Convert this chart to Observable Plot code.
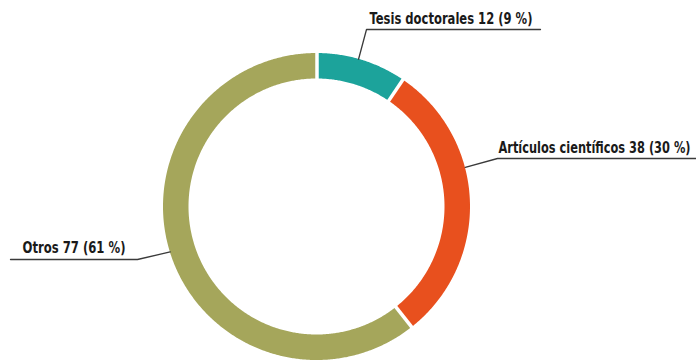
<!DOCTYPE html>
<html>
<head>
<meta charset="utf-8">
<script src="https://cdn.jsdelivr.net/npm/d3@7"></script>
<script src="https://cdn.jsdelivr.net/npm/@observablehq/plot@0.6"></script>
<style>
  body { margin: 0; background: #fff; }
  #chart svg { display: block; }
</style>
</head>
<body>
<div id="chart"></div>
<script>
// Publications by type
const categories = ["Tesis doctorales", "Artículos científicos", "Otros"];
const counts = [12, 38, 77];
const percents = [9, 30, 61];
const colors = ["#1ca39b", "#e8501e", "#a5a65b"];

// Layout
const W = 696, H = 362;
const cx = 316.5, cy = 206.5, rOuter = 153.5, rInner = 128;
// where each leader line leaves the ring (degrees clockwise from 12 o'clock),
// its elbow and the far end of its horizontal run
const leaderAngle = [15.7, 75, 253];
const leaderElbow = [[366, 29], [497, 158], [137, 259]];
const leaderEnd = [540, 696, 10];
const labelPos = [[369, 23], [498, 152], [22, 252]];
const labelWidth = [163, 192, 103];

const total = d3.sum(counts);
const pt = (a, r) => [cx + r * Math.sin(a), cy - r * Math.cos(a)];

// slices run clockwise from the top
let acc = 0;
const slices = categories.map((category, i) => {
  const a0 = acc / total * 2 * Math.PI;
  acc += counts[i];
  return {category, a0, a1: acc / total * 2 * Math.PI};
});

// one sample per step along each arc: outer and inner edge
const ring = slices.flatMap(s => {
  const n = Math.max(12, Math.ceil((s.a1 - s.a0) * 120));
  return d3.range(n + 1).map(k => {
    const a = s.a0 + (s.a1 - s.a0) * k / n;
    const [x1, y1] = pt(a, rOuter);
    const [x2, y2] = pt(a, rInner);
    return {category: s.category, x1, y1, x2, y2};
  });
});

// white gaps between slices
const gaps = slices.map(s => {
  const [x1, y1] = pt(s.a0, rInner - 3);
  const [x2, y2] = pt(s.a0, rOuter + 3);
  return {x1, y1, x2, y2};
});

// leader lines
const leaders = categories.flatMap((category, i) => {
  const [ax, ay] = pt(leaderAngle[i] * Math.PI / 180, rOuter);
  const [ex, ey] = leaderElbow[i];
  return [
    {category, x: ax, y: ay},
    {category, x: ex, y: ey},
    {category, x: leaderEnd[i], y: ey}
  ];
});

const labels = categories.map((category, i) => ({
  text: `${category} ${counts[i]} (${percents[i]} %)`,
  x: labelPos[i][0],
  y: labelPos[i][1],
  width: labelWidth[i]
}));

const chart = Plot.plot({
  width: W,
  height: H,
  margin: 0,
  x: {domain: [0, W], range: [0, W], axis: null},
  y: {domain: [0, H], range: [0, H], axis: null},
  color: {domain: categories, range: colors},
  style: {background: "#fff"},
  marks: [
    Plot.area(ring, {x1: "x1", y1: "y1", x2: "x2", y2: "y2", z: "category", fill: "category"}),
    Plot.link(gaps, {x1: "x1", y1: "y1", x2: "x2", y2: "y2", stroke: "#fff", strokeWidth: 3.5}),
    Plot.line(leaders, {x: "x", y: "y", z: "category", stroke: "#3a3a3a", strokeWidth: 1.3, curve: "linear"}),
    Plot.text(labels, {
      x: "x", y: "y", text: "text",
      textAnchor: "start", lineAnchor: "bottom",
      fontFamily: "'Liberation Sans Narrow', 'DejaVu Sans Condensed', Roboto, sans-serif",
      fontSize: 15, fontWeight: 600, fill: "#1a1a1a"
    })
  ]
});

// fit each label to its line
d3.select(chart).selectAll('g[aria-label="text"] text').each(function(d, i) {
  d3.select(this)
    .attr("textLength", labels[i].width)
    .attr("lengthAdjust", "spacingAndGlyphs");
});

document.getElementById("chart").appendChild(chart);
</script>
</body>
</html>
